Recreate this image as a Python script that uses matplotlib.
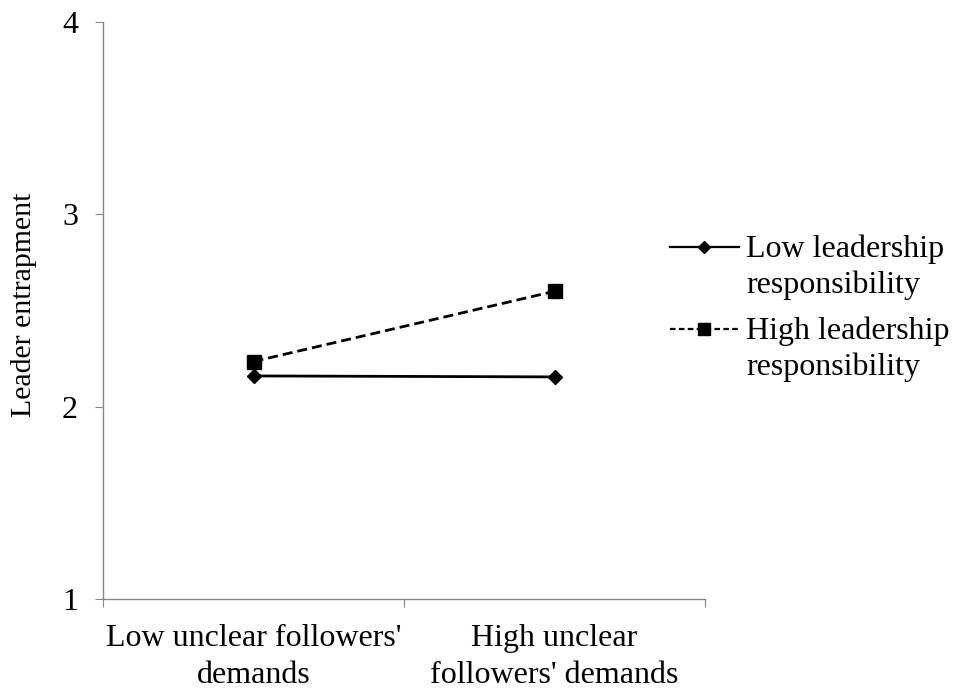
import matplotlib
matplotlib.use("Agg")
from matplotlib import pyplot as plt
from matplotlib.lines import Line2D

plt.rcParams['font.family'] = ['Liberation Serif', 'DejaVu Serif']

# data
categories = ["Low unclear followers'\ndemands", "High unclear\nfollowers' demands"]
low_resp = [2.16, 2.155]
high_resp = [2.235, 2.60]
series_names = ["Low leadership\nresponsibility", "High leadership\nresponsibility"]
y_ticks = [1, 2, 3, 4]

fig = plt.figure(figsize=(9.54, 6.91), dpi=100)
ax = fig.add_axes([0.108, 0.1331, 0.631, 0.835])

styles = [dict(ls='-', marker='D'), dict(ls=(0, (3.6, 1.8)), marker='s')]
sizes = [7.0, 10]
xpos = [i + 0.5 for i in range(len(categories))]
for vals, st, ms in zip([low_resp, high_resp], styles, sizes):
    ax.plot(xpos, vals, color='black', lw=2.0, ms=ms, **st)

ax.set_xlim(0, len(categories))
ax.set_ylim(1, 4)
ax.set_yticks(y_ticks)
ax.set_xticks(range(len(categories) + 1))
ax.set_xticklabels([])
ax.set_xticks(xpos, minor=True)
ax.set_xticklabels(categories, minor=True, fontsize=23, linespacing=1.35)
ax.tick_params(axis='x', which='minor', length=0, pad=18)
ax.tick_params(axis='x', which='major', length=6, color='#868686', direction='out')
ax.tick_params(axis='y', length=6, color='#868686', direction='out', pad=12, labelsize=23)

for s in ['top', 'right']:
    ax.spines[s].set_visible(False)
for s in ['left', 'bottom']:
    ax.spines[s].set_color('#868686')
    ax.spines[s].set_linewidth(1.0)

ax.set_ylabel("Leader entrapment", fontsize=21.5)
ax.yaxis.set_label_coords(-0.11, 0.51)

# legend drawn by hand: handle lines up with the first text line
leg_x0, leg_x1, leg_tx = 0.7023, 0.7746, 0.782
leg_y = [0.6425, 0.5239]
text_drop = (11 + 35) / 691  # baseline of the last (second) line
leg_styles = [dict(ls='-', marker='D', ms=6), dict(ls=(0, (2.5, 1.5)), marker='s', ms=8)]
for name, y, st in zip(series_names, leg_y, leg_styles):
    fig.add_artist(Line2D([leg_x0, (leg_x0 + leg_x1) / 2, leg_x1], [y, y, y],
                          transform=fig.transFigure, color='black', lw=1.6,
                          markevery=[1], **st))
    fig.text(leg_tx, y - text_drop, name, fontsize=23, va='baseline', ha='left', linespacing=1.31)

fig.savefig("out.png", dpi=100)
